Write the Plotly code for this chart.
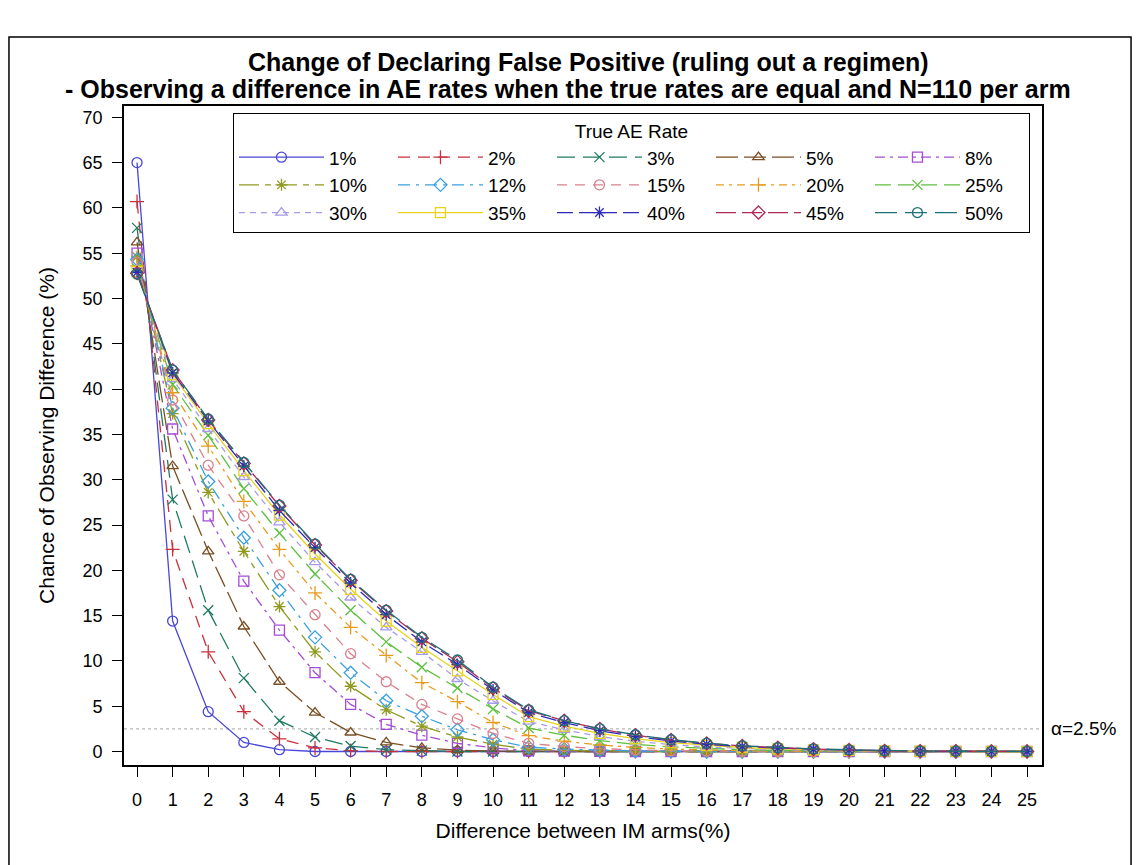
import plotly.graph_objects as go

# ---------------- data ----------------
diff_pct = list(range(0, 26))
x_tick_labels = [str(v) for v in diff_pct]
y_tick_values = list(range(0, 75, 5))

rate_names = ["1%", "2%", "3%", "5%", "8%", "10%", "12%", "15%", "20%", "25%",
              "30%", "35%", "40%", "45%", "50%"]

rate_01 = [65.0, 14.4, 4.4, 1.0, 0.2, 0.0, 0.0, 0.0, 0.0, 0.0, 0.0, 0.0, 0.0,
           0.0, 0.0, 0.0, 0.0, 0.0, 0.0, 0.0, 0.0, 0.0, 0.0, 0.0, 0.0, 0.0]
rate_02 = [60.7, 22.3, 11.0, 4.4, 1.4, 0.4, 0.1, 0.0, 0.0, 0.0, 0.0, 0.0, 0.0,
           0.0, 0.0, 0.0, 0.0, 0.0, 0.0, 0.0, 0.0, 0.0, 0.0, 0.0, 0.0, 0.0]
rate_03 = [57.8, 27.8, 15.6, 8.1, 3.4, 1.6, 0.6, 0.2, 0.1, 0.0, 0.0, 0.0, 0.0,
           0.0, 0.0, 0.0, 0.0, 0.0, 0.0, 0.0, 0.0, 0.0, 0.0, 0.0, 0.0, 0.0]
rate_05 = [56.2, 31.5, 22.1, 13.8, 7.7, 4.3, 2.1, 1.0, 0.4, 0.15, 0.05, 0.0, 0.0,
           0.0, 0.0, 0.0, 0.0, 0.0, 0.0, 0.0, 0.0, 0.0, 0.0, 0.0, 0.0, 0.0]
rate_08 = [55.0, 35.6, 26.0, 18.8, 13.4, 8.7, 5.2, 3.0, 1.8, 0.9, 0.4, 0.1, 0.05,
           0.02, 0.0, 0.0, 0.0, 0.0, 0.0, 0.0, 0.0, 0.0, 0.0, 0.0, 0.0, 0.0]
rate_10 = [54.6, 37.3, 28.6, 22.1, 16.0, 11.0, 7.2, 4.6, 2.8, 1.6, 0.8, 0.25, 0.12,
           0.05, 0.02, 0.0, 0.0, 0.0, 0.0, 0.0, 0.0, 0.0, 0.0, 0.0, 0.0, 0.0]
rate_12 = [54.3, 37.9, 29.8, 23.6, 17.8, 12.6, 8.7, 5.6, 3.9, 2.4, 1.3, 0.48, 0.26,
           0.13, 0.06, 0.03, 0.0, 0.0, 0.0, 0.0, 0.0, 0.0, 0.0, 0.0, 0.0, 0.0]
rate_15 = [54.0, 38.8, 31.6, 26.0, 19.5, 15.1, 10.8, 7.7, 5.2, 3.6, 2.0, 0.9, 0.54,
           0.31, 0.17, 0.09, 0.05, 0.02, 0.0, 0.0, 0.0, 0.0, 0.0, 0.0, 0.0, 0.0]
rate_20 = [53.6, 39.6, 33.7, 27.6, 22.3, 17.5, 13.7, 10.6, 7.6, 5.5, 3.2, 1.75, 1.14,
           0.72, 0.45, 0.27, 0.16, 0.09, 0.05, 0.03, 0.01, 0.0, 0.0, 0.0, 0.0, 0.0]
rate_25 = [53.3, 40.5, 34.9, 29.0, 24.1, 19.6, 15.6, 12.1, 9.3, 7.0, 4.7, 2.6, 1.8,
           1.2, 0.79, 0.51, 0.32, 0.2, 0.12, 0.07, 0.04, 0.02, 0.01, 0.0, 0.0, 0.0]
rate_30 = [53.1, 41.1, 35.6, 30.3, 25.3, 20.9, 17.0, 13.7, 11.0, 8.0, 5.6, 3.3, 2.4,
           1.65, 1.13, 0.76, 0.5, 0.33, 0.21, 0.13, 0.08, 0.04, 0.02, 0.01, 0.0, 0.0]
rate_35 = [53.0, 41.6, 36.2, 31.0, 26.1, 21.8, 17.9, 14.4, 11.5, 8.9, 6.3, 3.85, 2.8,
           2.0, 1.42, 0.98, 0.67, 0.44, 0.29, 0.19, 0.12, 0.06, 0.03, 0.02, 0.01, 0.0]
rate_40 = [52.9, 41.8, 36.5, 31.5, 26.6, 22.5, 18.6, 15.1, 12.1, 9.6, 6.8, 4.3, 3.2,
           2.3, 1.65, 1.16, 0.8, 0.55, 0.37, 0.24, 0.15, 0.06, 0.04, 0.02, 0.01, 0.0]
rate_45 = [52.8, 42.1, 36.6, 31.8, 27.1, 22.8, 18.9, 15.5, 12.5, 9.9, 7.0, 4.5, 3.4,
           2.5, 1.8, 1.27, 0.89, 0.61, 0.41, 0.27, 0.18, 0.07, 0.05, 0.03, 0.01, 0.01]
rate_50 = [52.7, 42.1, 36.7, 31.9, 27.2, 22.9, 19.0, 15.6, 12.6, 10.1, 7.1, 4.6, 3.4,
           2.5, 1.85, 1.3, 0.92, 0.63, 0.43, 0.29, 0.19, 0.08, 0.05, 0.03, 0.02, 0.01]

alpha_level = 2.5
alpha_label = "α=2.5%"

# ---------------- styles ----------------
series_values = [rate_01, rate_02, rate_03, rate_05, rate_08, rate_10, rate_12,
                 rate_15, rate_20, rate_25, rate_30, rate_35, rate_40, rate_45, rate_50]
series_colors = ["#4848D8", "#C8303C", "#1F7A62", "#7A4E24", "#A44CD6",
                 "#8F9A1E", "#3AA0E0", "#D9808E", "#E89A1F", "#5FBF3F",
                 "#A89BE6", "#E6D21E", "#2B2BB8", "#B02A55", "#1E6F78"]
symbol_cycle = ["circle-open", "cross-thin-open", "x-thin-open", "triangle-up-open",
                "square-open", "asterisk-open", "diamond-open"]
series_dash = ["solid", "12px,8px", "18px,8px", "22px,6px", "10px,5px,3px,5px",
               "20px,6px,6px,6px", "12px,6px,3px,6px", "10px,8px", "8px,5px,3px,5px",
               "16px,7px", "6px,5px", "solid", "16px,6px", "20px,6px", "22px,8px"]

FONT = "Arial, Liberation Sans, sans-serif"

fig = go.Figure()
for i, (name, vals) in enumerate(zip(rate_names, series_values)):
    col = series_colors[i]
    fig.add_trace(go.Scatter(
        x=diff_pct, y=vals, name=name, mode="lines+markers",
        line=dict(color=col, width=1.3, dash=series_dash[i]),
        marker=dict(symbol=symbol_cycle[i % 7], size=10, color=col,
                    line=dict(color=col, width=1.3)),
    ))

# alpha reference line
fig.add_shape(type="line", xref="paper", yref="y", x0=0, x1=1,
              y0=alpha_level, y1=alpha_level,
              line=dict(color="#B8B8B8", width=1.2, dash="dot"), layer="below")
fig.add_annotation(xref="paper", yref="y", x=1.008, y=alpha_level, text=alpha_label,
                   showarrow=False, xanchor="left", yanchor="middle",
                   font=dict(size=19, family=FONT, color="black"))

# outer frame
fig.add_shape(type="rect", xref="paper", yref="paper",
              x0=-0.1253, x1=1.097, y0=-0.16, y1=1.1047,
              line=dict(color="black", width=1.5), fillcolor="rgba(0,0,0,0)")

# titles
fig.add_annotation(xref="paper", yref="paper", x=0.5065, y=1.0668,
                   text="<b>Change of Declaring False Positive (ruling out a regimen)</b>",
                   showarrow=False, xanchor="center", yanchor="middle",
                   font=dict(size=25, family=FONT, color="black"))
fig.add_annotation(xref="paper", yref="paper", x=0.4837, y=1.0258,
                   text="<b>- Observing a difference in AE rates when the true rates are equal and N=110 per arm</b>",
                   showarrow=False, xanchor="center", yanchor="middle",
                   font=dict(size=25, family=FONT, color="black"))

fig.update_layout(
    width=1140, height=865,
    margin=dict(l=124, r=98, t=106, b=100, autoexpand=False),
    plot_bgcolor="white", paper_bgcolor="white",
    font=dict(family=FONT, color="black", size=18),
    showlegend=True,
    legend=dict(
        orientation="h", x=0.1187, xanchor="left", y=0.99, yanchor="top",
        itemwidth=85, entrywidth=59, entrywidthmode="pixels",
        bordercolor="black", borderwidth=1, bgcolor="white",
        font=dict(size=19, family=FONT, color="black"),
        title=dict(text="True AE Rate", side="top center",
                   font=dict(size=19, family=FONT, color="black")),
        traceorder="normal",
    ),
)

fig.update_xaxes(
    range=[-0.366, 25.42], tickmode="array", tickvals=diff_pct, ticktext=x_tick_labels,
    showgrid=False, zeroline=False, showline=True, mirror=True,
    linecolor="black", linewidth=1.6, ticks="outside", ticklen=10, tickwidth=1.3,
    tickcolor="black", tickfont=dict(size=18, family=FONT), ticklabelstandoff=8,
    title=dict(text="Difference between IM arms(%)", font=dict(size=21, family=FONT),
               standoff=14),
)
fig.update_yaxes(
    range=[-1.49, 71.25], tickmode="array", tickvals=y_tick_values,
    showgrid=False, zeroline=False, showline=True, mirror=True,
    linecolor="black", linewidth=1.6, ticks="outside", ticklen=10, tickwidth=1.3,
    tickcolor="black", tickfont=dict(size=18, family=FONT), ticklabelstandoff=6,
    title=dict(text="Chance of Observing Difference (%)", font=dict(size=21, family=FONT),
               standoff=22),
)

fig.write_html("out.html")
